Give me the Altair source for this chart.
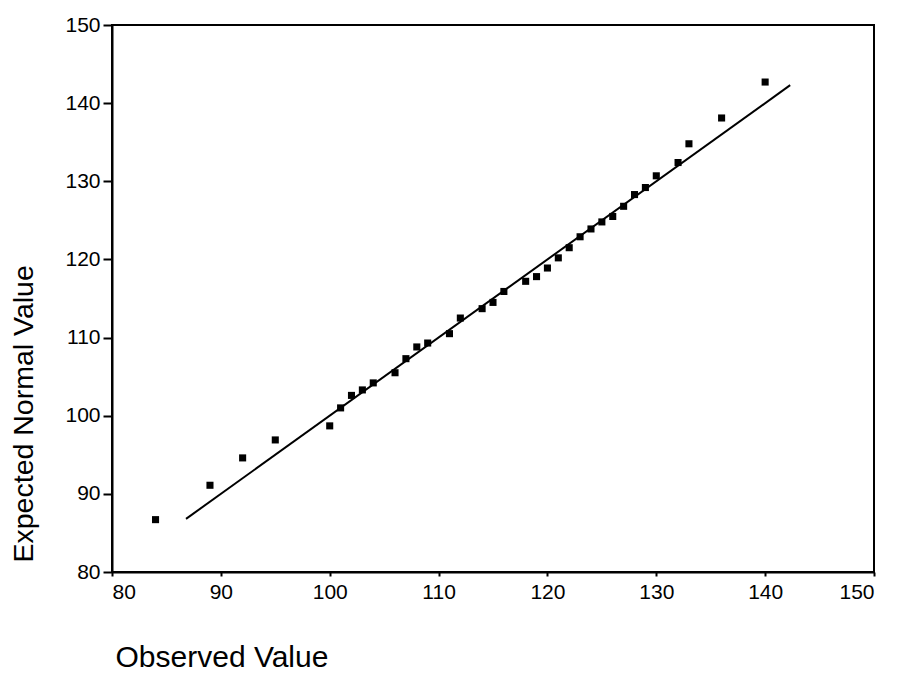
import altair as alt
import pandas as pd

observed = [84, 89, 92, 95, 100, 101, 102, 103, 104, 106, 107, 108, 109, 111, 112,
            114, 115, 116, 118, 119, 120, 121, 122, 123, 124, 125, 126, 127, 128, 129,
            130, 132, 133, 136, 140]
expected = [86.7, 91.1, 94.6, 96.9, 98.7, 101.0, 102.6, 103.3, 104.2, 105.5, 107.3, 108.8,
            109.3, 110.5, 112.5, 113.7, 114.5, 115.9, 117.2, 117.8, 118.9, 120.2, 121.5,
            122.9, 123.9, 124.8, 125.5, 126.8, 128.3, 129.2, 130.7, 132.4, 134.8, 138.1,
            142.7]
line_x = [86.8, 142.3]
line_y = [86.8, 142.3]
ticks = [80, 90, 100, 110, 120, 130, 140, 150]

pts = pd.DataFrame({"observed": observed, "expected": expected})
ln = pd.DataFrame({"observed": line_x, "expected": line_y})

FONT = "Liberation Sans"
xs = alt.Scale(domain=[80, 150], nice=False, zero=False)
ys = alt.Scale(domain=[80, 150], nice=False, zero=False)

common = dict(grid=False, domainColor="black", domainWidth=2, tickColor="black",
              tickWidth=2, labelColor="black", titleColor="black", labelFont=FONT,
              titleFont=FONT, titleFontWeight="normal", labelFontSize=21,
              values=ticks, labelOverlap=False)

xax = alt.Axis(title="Observed Value", tickSize=4, labelPadding=5,
               titleAnchor="start", titleAlign="left", titleX=3, titleY=94,
               titleBaseline="alphabetic", titleFontSize=30, **common)
yax = alt.Axis(title="Expected Normal Value", tickSize=9, labelPadding=3,
               titleAngle=270, titleAlign="left", titleBaseline="alphabetic",
               titleX=-80, titleY=537, titleFontSize=28.5, **common)

points = alt.Chart(pts).mark_square(size=50, color="black", opacity=1).encode(
    x=alt.X("observed:Q", scale=xs, axis=xax),
    y=alt.Y("expected:Q", scale=ys, axis=yax),
)
line = alt.Chart(ln).mark_line(color="black", strokeWidth=2).encode(
    x=alt.X("observed:Q", scale=xs),
    y=alt.Y("expected:Q", scale=ys),
)

chart = (line + points).properties(
    width=762, height=547,
    autosize=alt.AutoSizeParams(type="none"),
    padding={"left": 104, "top": 17, "right": 17, "bottom": 100},
    background="white",
).configure_view(stroke="black", strokeWidth=2)

chart.save("out.html", embed_options={"renderer": "svg", "actions": False})
